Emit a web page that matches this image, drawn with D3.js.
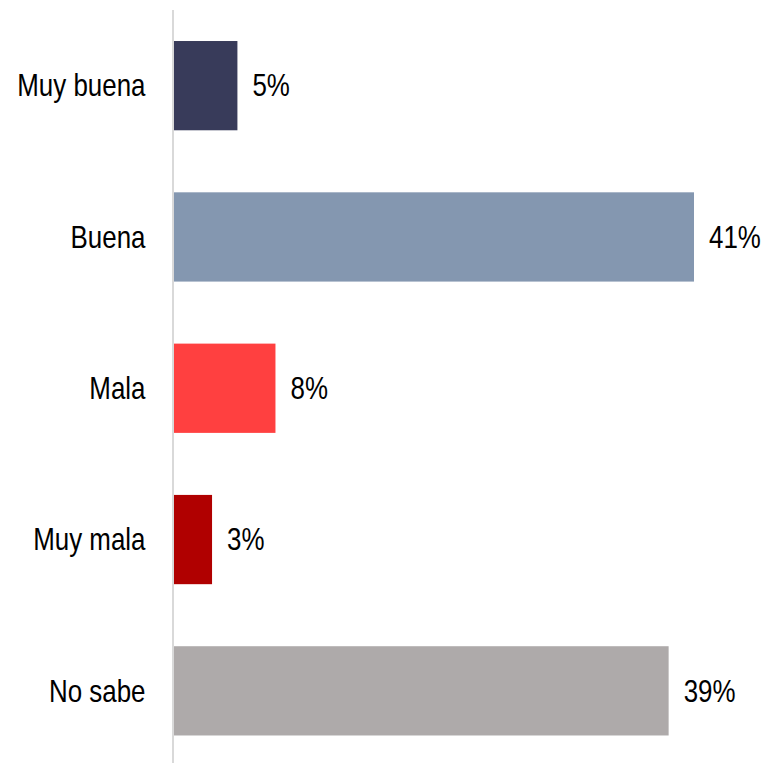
<!DOCTYPE html>
<html>
<head>
<meta charset="utf-8">
<script src="https://cdn.jsdelivr.net/npm/d3@7"></script>
<style>
  html, body { margin: 0; padding: 0; background: #fff; }
  svg { display: block; }
  text { font-family: "Liberation Sans", Arial, sans-serif; fill: #000; }
</style>
</head>
<body>
<svg id="chart" width="763" height="763"></svg>
<script>
// Opinion categories and their shares (%)
const categories = ["Muy buena", "Buena", "Mala", "Muy mala", "No sabe"];
const values = [5, 41, 8, 3, 39];
const colors = ["#383b5a", "#8497b0", "#ff4040", "#b00000", "#aeaaaa"];

const W = 763, H = 763;
const x0 = 174;
const fontSize = 30.5;
const narrow = 0.85; // horizontal squeeze to get a condensed face
const svg = d3.select("#chart");

const x = d3.scaleLinear().domain([0, 41]).range([x0, x0 + 520]);
const y = d3.scaleBand().domain(categories).range([10, 766.5]).paddingInner(0.41).paddingOuter(0.205);

const rows = categories.map((c, i) => ({ c, v: values[i], col: colors[i] }));

svg.selectAll("rect.bar").data(rows).join("rect")
  .attr("class", "bar")
  .attr("x", x(0))
  .attr("y", d => y(d.c))
  .attr("width", d => x(d.v) - x(0))
  .attr("height", y.bandwidth())
  .attr("fill", d => d.col);

// vertical category axis
svg.append("line")
  .attr("x1", x0 - 1).attr("x2", x0 - 1)
  .attr("y1", 10).attr("y2", H)
  .attr("stroke", "#d9d9d9").attr("stroke-width", 2);

svg.selectAll("text.cat").data(rows).join("text")
  .attr("class", "cat")
  .attr("transform", d => `translate(${x0 - 28.5},${y(d.c) + y.bandwidth() / 2}) scale(${narrow},1)`)
  .attr("dy", "0.35em")
  .attr("text-anchor", "end")
  .attr("font-size", fontSize)
  .text(d => d.c);

svg.selectAll("text.val").data(rows).join("text")
  .attr("class", "val")
  .attr("transform", d => `translate(${x(d.v) + 15},${y(d.c) + y.bandwidth() / 2}) scale(${narrow},1)`)
  .attr("dy", "0.35em")
  .attr("font-size", fontSize)
  .text(d => d.v + "%");
</script>
</body>
</html>
